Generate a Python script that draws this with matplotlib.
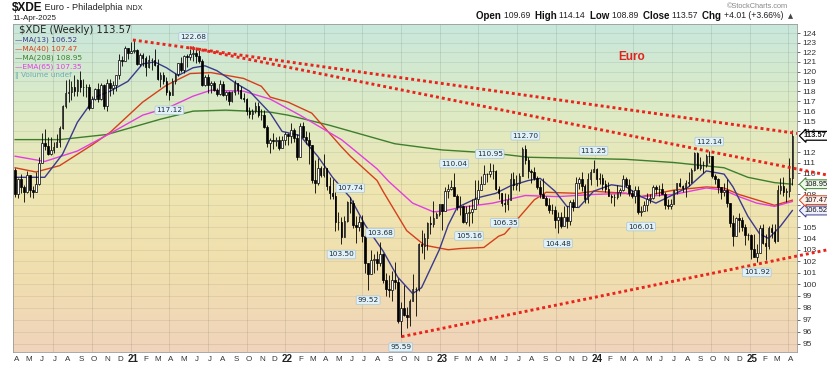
import numpy as np
import pandas as pd
import matplotlib
matplotlib.use("Agg")
import matplotlib.pyplot as plt
import matplotlib.dates as mdates
import matplotlib.transforms as mtransforms
from matplotlib.colors import LinearSegmentedColormap
from matplotlib.ticker import FixedLocator, FixedFormatter, NullLocator

# ---------------- data (weekly bars, Friday dates) ----------------
WEEKS = pd.date_range("2020-04-03", "2025-04-11", freq="W-FRI")
OPEN_FIRST = 110.3

CLOSE = [
    # 2020
    108.0, 109.4, 108.7, 108.2, 109.8, 108.4, 108.2, 109.0, 111.0, 112.9, 112.6, 111.8, 112.2,
    112.5, 113.0, 114.3, 116.5, 117.8, 117.9, 118.4, 118.0, 119.1, 118.4, 118.4, 118.4, 116.3,
    117.2, 118.2, 117.2, 118.6, 116.5, 118.8, 118.3, 118.6, 119.6, 121.2, 121.1, 122.5, 121.9,
    # 2021
    122.1, 122.2, 120.8, 121.7, 121.4, 120.5, 121.2, 121.2, 120.7, 119.2, 119.6, 119.0, 117.9,
    117.6, 119.0, 119.8, 120.9, 120.2, 121.6, 121.5, 121.8, 121.9, 121.6, 121.1, 118.6, 119.4,
    118.6, 118.8, 118.1, 117.7, 118.7, 117.6, 117.9, 117.0, 117.9, 118.8, 118.1, 117.3, 117.2,
    116.0, 115.7, 116.0, 116.5, 115.6, 115.6, 114.4, 112.9, 113.2, 113.1, 113.2, 112.4, 113.2, 113.7,
    # 2022
    113.6, 114.1, 113.4, 111.5, 114.5, 113.5, 113.2, 112.7, 109.3, 109.1, 110.5, 109.8, 110.5,
    108.8, 108.1, 107.9, 105.5, 105.5, 104.1, 105.6, 107.3, 107.2, 105.2, 105.0, 105.5, 104.2,
    101.8, 100.9, 102.1, 102.2, 101.8, 102.6, 100.4, 99.6, 99.5, 100.4, 100.2, 96.9, 98.0,
    97.4, 97.2, 98.6, 99.6, 99.6, 103.5, 103.3, 104.0, 105.4, 105.3, 105.8, 106.2, 107.1,
    # 2023
    106.5, 108.3, 108.5, 108.7, 107.9, 106.8, 106.9, 105.5, 106.3, 106.4, 106.7, 107.6, 108.4,
    109.0, 109.9, 109.9, 110.2, 110.2, 108.5, 108.1, 107.2, 107.1, 107.5, 109.4, 108.9, 109.1,
    109.7, 112.3, 111.2, 110.2, 110.1, 109.5, 108.7, 108.0, 107.7, 107.0, 106.6, 106.6, 105.7,
    105.9, 105.1, 105.9, 105.6, 107.3, 106.8, 109.1, 109.4, 108.8, 107.6, 109.4, 110.1, 110.4,
    # 2024
    109.4, 109.5, 109.0, 108.5, 107.9, 107.8, 107.8, 108.2, 108.4, 109.4, 108.9, 108.1, 107.9,
    108.4, 106.4, 106.5, 107.0, 107.6, 107.7, 108.7, 108.5, 108.5, 108.0, 107.0, 106.9, 107.1,
    108.4, 109.1, 108.8, 108.6, 109.1, 109.2, 110.3, 111.9, 110.5, 110.8, 110.8, 111.6, 111.6,
    109.7, 109.4, 108.7, 108.2, 108.4, 107.2, 105.4, 104.2, 105.8, 105.7, 105.0, 104.3, 104.3,
    # 2025
    103.1, 102.4, 102.7, 104.9, 103.6, 103.3, 104.9, 104.6, 103.8, 108.4, 108.8, 108.2, 108.3,
    109.56, 113.57,
]

HIGH = [
    # 2020
    110.5, 109.5, 109.9, 108.9, 110.2, 109.8, 108.8, 110.1, 111.5, 113.8, 114.2, 113.5, 113.5,
    113.0, 113.7, 114.5, 116.6, 119.1, 119.2, 119.0, 119.7, 119.2, 120.1, 119.2, 118.7, 118.7,
    117.5, 118.3, 118.8, 118.8, 118.7, 119.2, 119.2, 119.0, 119.7, 121.8, 121.6, 122.7, 122.5,
    # 2021
    123.1, 123.4, 122.4, 121.9, 121.9, 121.6, 121.7, 121.4, 122.4, 121.3, 120.0, 120.0, 119.4,
    118.1, 119.3, 119.9, 120.9, 121.5, 121.7, 121.8, 122.4, 122.68, 122.5, 122.2, 121.3, 119.7,
    119.8, 119.0, 119.0, 118.3, 119.1, 119.0, 118.0, 118.0, 118.0, 119.1, 118.8, 118.5, 117.8,
    117.3, 116.4, 116.2, 116.9, 116.9, 116.2, 116.1, 114.6, 113.4, 113.8, 113.5, 113.6, 113.6, 113.9,
    # 2022
    113.8, 114.8, 114.3, 113.7, 114.8, 114.9, 114.0, 113.9, 112.6, 111.2, 111.4, 110.7, 111.8,
    110.5, 109.6, 109.4, 108.2, 106.4, 105.9, 106.0, 107.4, 107.74, 107.5, 106.0, 106.0, 106.1,
    104.3, 101.8, 103.0, 102.6, 102.9, 103.68, 102.7, 101.0, 100.8, 101.1, 101.9, 100.5, 98.5,
    99.9, 98.1, 98.7, 100.9, 99.8, 103.6, 104.8, 104.5, 105.5, 106.0, 107.4, 106.4, 107.1,
    # 2023
    107.1, 108.7, 109.0, 109.3, 110.04, 108.0, 107.9, 107.0, 106.9, 107.0, 107.6, 109.3, 109.3,
    109.7, 110.8, 110.0, 110.95, 110.9, 110.3, 108.8, 108.1, 108.1, 108.0, 110.0, 110.1, 109.8,
    110.0, 112.5, 112.70, 111.5, 110.4, 110.6, 109.7, 109.3, 109.5, 107.9, 107.7, 107.1, 106.9,
    106.4, 106.4, 106.9, 106.9, 107.5, 107.6, 109.6, 109.6, 110.1, 109.0, 110.0, 110.4, 111.25,
    # 2024
    110.5, 110.0, 109.9, 109.3, 109.2, 108.0, 108.0, 108.9, 108.6, 109.8, 109.6, 109.4, 108.4,
    108.8, 108.8, 106.9, 107.4, 108.1, 108.0, 108.9, 108.9, 108.9, 109.1, 108.2, 107.6, 107.6,
    108.4, 109.1, 109.5, 108.9, 109.3, 110.1, 110.5, 112.0, 112.0, 111.5, 111.1, 111.8, 112.14,
    111.6, 109.9, 109.5, 108.7, 109.1, 109.4, 107.2, 106.1, 105.9, 106.3, 105.9, 105.3, 104.5,
    # 2025
    104.4, 104.4, 103.5, 105.2, 105.3, 104.4, 105.1, 105.3, 105.3, 108.9, 109.5, 109.6, 108.6,
    111.4, 114.14,
]

LOW = [
    # 2020
    107.8, 107.7, 108.1, 107.3, 108.1, 107.8, 107.7, 108.6, 108.9, 111.0, 112.2, 111.7, 111.7,
    111.9, 112.5, 112.5, 114.2, 116.3, 116.9, 117.1, 117.5, 117.5, 117.9, 117.5, 117.4, 116.1,
    116.7, 117.1, 116.9, 117.1, 116.2, 116.0, 117.5, 117.7, 118.0, 119.2, 120.6, 121.2, 121.3,
    # 2021
    121.9, 121.9, 120.7, 120.6, 120.6, 119.5, 120.4, 120.2, 120.6, 119.1, 118.4, 118.7, 117.6,
    117.12, 117.6, 118.7, 119.5, 120.0, 119.9, 120.5, 121.2, 121.1, 120.9, 120.9, 118.5, 118.5,
    117.8, 117.8, 118.0, 117.5, 117.6, 117.5, 117.1, 116.6, 116.9, 117.6, 117.7, 117.2, 116.9,
    115.6, 115.3, 115.2, 115.8, 115.4, 115.1, 114.3, 112.5, 111.9, 112.3, 112.6, 112.2, 112.4, 112.7,
    # 2022
    112.7, 112.9, 113.0, 111.2, 111.6, 113.4, 112.8, 110.9, 109.1, 108.1, 108.9, 109.6, 109.6,
    108.4, 107.6, 107.6, 104.7, 104.8, 103.50, 104.3, 105.5, 106.3, 104.9, 103.6, 104.7, 103.7,
    101.0, 99.52, 100.9, 101.0, 101.2, 101.6, 100.1, 99.0, 98.9, 98.6, 99.6, 96.7, 95.59,
    97.3, 96.3, 96.5, 98.6, 97.3, 99.4, 102.7, 102.2, 103.0, 104.4, 105.0, 105.8, 106.0,
    # 2023
    104.8, 106.7, 107.7, 108.4, 107.9, 106.6, 106.1, 105.4, 105.3, 105.16, 105.4, 107.1, 107.1,
    108.4, 109.1, 109.2, 109.6, 109.4, 108.4, 107.6, 106.9, 106.35, 106.6, 107.7, 108.4, 108.4,
    108.3, 109.7, 110.9, 109.5, 109.1, 109.3, 108.5, 107.7, 107.7, 106.9, 106.3, 106.2, 104.9,
    104.48, 104.9, 105.2, 104.9, 105.2, 106.5, 106.9, 108.5, 108.3, 107.2, 107.2, 108.9, 110.1,
    # 2024
    108.8, 109.0, 108.4, 108.2, 107.9, 107.2, 106.9, 107.6, 107.9, 108.3, 108.7, 107.9, 107.7,
    107.2, 106.2, 106.01, 106.5, 106.5, 107.2, 107.6, 108.0, 107.9, 108.0, 106.7, 106.7, 106.7,
    107.1, 108.0, 108.7, 108.2, 107.8, 108.8, 109.1, 110.2, 110.4, 110.3, 110.0, 110.6, 111.0,
    109.5, 109.0, 108.1, 107.6, 107.9, 106.8, 105.0, 103.3, 104.2, 104.6, 104.7, 103.4, 103.9,
    # 2025
    102.2, 102.4, 101.92, 102.8, 103.5, 102.1, 103.1, 104.0, 103.6, 103.9, 108.0, 107.9, 107.3,
    107.8, 108.89,
]

MA13_DATES = ["2020-04-03", "2020-06-12", "2020-07-24", "2020-08-28", "2020-10-09", "2020-11-13",
              "2020-12-25", "2021-01-29", "2021-02-26", "2021-03-26", "2021-04-23", "2021-05-28",
              "2021-06-25", "2021-07-23", "2021-09-10", "2021-10-08", "2021-11-26", "2021-12-24",
              "2022-02-04", "2022-03-18", "2022-04-22", "2022-06-03", "2022-07-08", "2022-08-19",
              "2022-09-23", "2022-10-28", "2022-11-18", "2022-12-30", "2023-01-20", "2023-02-10",
              "2023-03-31", "2023-05-12", "2023-06-16", "2023-07-28", "2023-08-25", "2023-09-29",
              "2023-10-27", "2023-11-24", "2023-12-29", "2024-02-09", "2024-03-15", "2024-04-19",
              "2024-05-24", "2024-07-05", "2024-08-09", "2024-09-20", "2024-11-01", "2024-11-22",
              "2024-12-27", "2025-01-24", "2025-02-14", "2025-03-14", "2025-04-11"]
MA13_VALS = [109.6, 109.6, 111.8, 114.9, 117.4, 118.0, 119.0, 120.8, 121.0, 120.4, 119.6, 120.4,
             120.6, 120.1, 118.7, 118.0, 115.8, 114.0, 113.6, 111.6, 109.6, 107.7, 105.2, 102.9,
             100.6, 99.2, 99.7, 103.0, 105.2, 106.8, 107.7, 108.1, 108.8, 109.3, 109.5, 108.3,
             106.9, 106.8, 108.3, 108.9, 108.7, 107.8, 107.2, 108.0, 108.7, 110.2, 109.9, 108.7,
             106.0, 104.4, 104.0, 105.1, 106.52]

MA40_DATES = ["2020-04-03", "2020-05-22", "2020-07-17", "2020-10-02", "2020-11-13", "2021-01-29",
              "2021-03-26", "2021-05-21", "2021-07-09", "2021-09-24", "2021-11-05", "2021-11-26",
              "2022-01-07", "2022-03-04", "2022-05-13", "2022-06-03", "2022-08-05", "2022-08-19",
              "2022-10-14", "2022-11-25", "2023-01-20", "2023-02-17", "2023-04-14", "2023-05-19",
              "2023-06-02", "2023-08-11", "2023-09-08", "2023-11-24", "2023-12-29", "2024-03-15",
              "2024-04-19", "2024-07-05", "2024-09-20", "2024-11-01", "2024-12-06", "2025-01-17",
              "2025-02-28", "2025-04-11"]
MA40_VALS = [110.5, 110.1, 110.7, 112.7, 113.9, 116.9, 118.6, 119.8, 119.9, 119.3, 118.5, 117.4,
             116.9, 115.8, 112.5, 111.6, 109.3, 108.3, 104.7, 103.4, 103.0, 103.1, 103.2, 104.2,
             104.4, 107.5, 108.2, 108.1, 108.3, 108.1, 107.8, 108.4, 108.7, 108.6, 108.0, 107.5,
             107.0, 107.47]

MA208_DATES = ["2020-04-03", "2020-07-17", "2020-11-06", "2021-03-12", "2021-05-28", "2021-08-13",
               "2021-11-26", "2022-01-07", "2022-04-15", "2022-09-16", "2023-01-06", "2023-05-05",
               "2023-07-28", "2024-03-15", "2024-07-05", "2024-11-01", "2024-12-27", "2025-02-28",
               "2025-04-11"]
MA208_VALS = [113.2, 113.2, 113.7, 115.2, 116.0, 116.1, 115.9, 115.6, 114.6, 112.8, 112.2, 111.9,
              111.5, 111.3, 111.0, 110.5, 109.6, 109.1, 108.95]

EMA65_DATES = ["2020-04-03", "2020-06-12", "2020-08-28", "2020-11-13", "2021-01-29", "2021-04-02",
               "2021-05-28", "2021-07-09", "2021-09-24", "2021-11-26", "2022-02-04", "2022-05-13",
               "2022-06-03", "2022-08-05", "2022-09-02", "2022-10-28", "2022-12-16", "2023-01-13",
               "2023-02-17", "2023-05-05", "2023-07-21", "2023-10-06", "2023-12-29", "2024-03-15",
               "2024-04-19", "2024-07-05", "2024-09-20", "2024-11-01", "2024-12-06", "2025-01-17",
               "2025-02-28", "2025-04-11"]
EMA65_VALS = [111.6, 111.1, 112.1, 113.8, 115.6, 116.4, 117.5, 118.1, 118.0, 117.2, 115.6, 113.2,
              112.5, 110.4, 109.2, 107.2, 106.4, 106.5, 106.8, 107.2, 107.9, 107.8, 108.0, 108.1,
              107.8, 108.0, 108.6, 108.4, 107.8, 107.2, 106.9, 107.35]

# labelled highs / lows
EXT_DATES = ["2021-05-28", "2021-04-02", "2022-05-13", "2022-06-03", "2022-07-15", "2022-08-12",
             "2022-09-30", "2023-02-03", "2023-03-10", "2023-04-28", "2023-06-02", "2023-07-21",
             "2023-10-06", "2023-12-29", "2024-04-19", "2024-09-27", "2025-01-17"]
EXT_VALS = [122.68, 117.12, 103.50, 107.74, 99.52, 103.68, 95.59, 110.04, 105.16, 110.95, 106.35,
            112.70, 104.48, 111.25, 106.01, 112.14, 101.92]
EXT_KIND = ["hi", "lo", "lo", "hi", "lo", "hi", "lo", "hi", "lo", "hi", "lo", "hi", "lo", "hi",
            "lo", "hi", "lo"]

# dotted trend lines (two anchor points each)
TRENDS = [
    (["2021-01-06", "2025-04-22"], [123.3, 113.8]),
    (["2021-05-20", "2025-07-04"], [122.5, 109.8]),
    (["2022-10-02", "2025-07-04"], [95.6, 103.0]),
]

# y tick labels hidden behind the value tags in the reference
HIDDEN_TICKS = [113, 109, 107, 106]

C_MA13 = "#3a3a8c"
C_MA40 = "#d4401c"
C_MA208 = "#3d7f2c"
C_EMA65 = "#e23ee0"
C_TREND = "#e8251c"
LS = "Liberation Sans"

# ---------------- figure ----------------
W, H = 828, 367
fig = plt.figure(figsize=(W / 100, H / 100), dpi=100)
fig.patch.set_facecolor("white")
ax_rect = [13 / W, 1 - 352 / H, 784 / W, 328 / H]

bg = fig.add_axes(ax_rect, zorder=0)
grad = LinearSegmentedColormap.from_list(
    "bg", ["#c8e7dc", "#dcebc6", "#eee6b2", "#f1dfae", "#f0d4bc"])
bg.imshow(np.linspace(0, 1, 256).reshape(-1, 1), cmap=grad, aspect="auto",
          extent=(0, 1, 0, 1), origin="upper")
bg.axis("off")

ax = fig.add_axes(ax_rect, zorder=1)
ax.set_facecolor("none")
ax.set_yscale("log")
ax.set_ylim(94.35, 125.0)
ax.set_xlim(mdates.date2num(pd.Timestamp("2020-03-29")), mdates.date2num(pd.Timestamp("2025-04-22")))

ticks = list(range(95, 125))
ax.yaxis.set_major_locator(FixedLocator(ticks))
ax.yaxis.set_major_formatter(FixedFormatter(["" if t in HIDDEN_TICKS else str(t) for t in ticks]))
ax.yaxis.set_minor_locator(NullLocator())
ax.yaxis.tick_right()
ax.tick_params(axis="y", which="major", length=2.5, width=0.5, pad=1.5, labelsize=6,
               colors="#333333", labelfontfamily=LS)
ax.xaxis.set_major_locator(NullLocator())
ax.xaxis.set_minor_locator(NullLocator())
ax.grid(axis="y", color="black", alpha=0.08, lw=0.6)
for q in pd.date_range("2020-07-01", "2025-04-01", freq="QS-JAN"):
    ax.axvline(mdates.date2num(q), color="black", alpha=0.10, lw=0.6, zorder=1)
for s in ax.spines.values():
    s.set_color("#9a9a9a")
    s.set_linewidth(0.6)

# month labels
trans_x = mtransforms.blended_transform_factory(ax.transData, ax.transAxes)
for m in pd.date_range("2020-04-01", "2025-04-01", freq="MS"):
    xm = mdates.date2num(m + pd.Timedelta(days=5))
    if m.month == 1:
        ax.text(xm, -0.022, f"{m.year % 100:02d}", transform=trans_x, ha="center", va="center",
                fontsize=7, fontweight="bold", family=LS, color="#222222")
    else:
        ax.text(xm, -0.022, "JFMAMJJASOND"[m.month - 1], transform=trans_x, ha="center",
                va="center", fontsize=5.8, family=LS, color="#333333")

# moving averages
for dts, vals, col in [(MA208_DATES, MA208_VALS, C_MA208), (MA40_DATES, MA40_VALS, C_MA40),
                       (EMA65_DATES, EMA65_VALS, C_EMA65), (MA13_DATES, MA13_VALS, C_MA13)]:
    ax.plot(pd.to_datetime(dts), vals, color=col, lw=1.0, zorder=3, solid_joinstyle="round")

# candlesticks
x = mdates.date2num(WEEKS)
c = np.array(CLOSE)
o = np.array([OPEN_FIRST] + CLOSE[:-1])
h = np.maximum.reduce([np.array(HIGH), o, c])
l = np.minimum.reduce([np.array(LOW), o, c])
up = c >= o
ax.vlines(x, l, h, color="black", lw=0.6, zorder=5)
ax.bar(x[up], (c - o)[up], bottom=o[up], width=3.8, facecolor="white", edgecolor="black",
       lw=0.5, zorder=6)
ax.bar(x[~up], (o - c)[~up], bottom=c[~up], width=3.8, facecolor="black", edgecolor="black",
       lw=0.5, zorder=6)

# trend lines
for dts, vals in TRENDS:
    ax.plot(pd.to_datetime(dts), vals, color=C_TREND, lw=2.1, ls=(0, (1, 1.05)),
            zorder=7, clip_on=False)

# labelled extremes
for d, v, k in zip(EXT_DATES, EXT_VALS, EXT_KIND):
    ax.annotate(f"{v:.2f}", xy=(pd.Timestamp(d), v), xytext=(0, 6.5 if k == "hi" else -7.5),
                textcoords="offset points", ha="center", va="center", fontsize=5.3,
                color="#1d2f3a", zorder=9,
                bbox=dict(boxstyle="round,pad=0.18", fc="#e2f1f7", ec="#a6c6d6", lw=0.5))

# value tags on right axis
trans_y = mtransforms.blended_transform_factory(ax.transAxes, ax.transData)
for v, ec, fc, wt in [(106.52, C_MA13, "#eef0ff", "normal"), (107.47, C_MA40, "#fff0ea", "normal"),
                      (108.95, C_MA208, "#eef8ea", "normal"),
                      (CLOSE[-1], "#000000", "#ffffff", "bold")]:
    ax.text(1.0 + 7 / 784, v, f"{v:.2f}", transform=trans_y, ha="left", va="center",
            fontsize=5.4, fontweight=wt, family=LS, color="#111111", zorder=10, clip_on=False,
            bbox=dict(boxstyle="larrow,pad=0.12", fc=fc, ec=ec, lw=0.9 if wt == "bold" else 0.7))

# ---------------- header texts ----------------
renderer = fig.canvas.get_renderer()


def text_run(x_px, y_px, pieces):
    # place text pieces one after another on one line
    xx = x_px
    for s, kw in pieces:
        t = fig.text(xx / W, 1 - y_px / H, s, ha="left", va="center", **kw)
        xx += t.get_window_extent(renderer=renderer).width
    return xx


text_run(12, 8, [("$XDE", dict(fontsize=8.5, fontweight="bold", family=LS, color="#111111")),
                 (" Euro - Philadelphia ", dict(fontsize=6.6, family=LS, color="#222222")),
                 ("INDX", dict(fontsize=5.2, family=LS, color="#222222"))])
fig.text(12 / W, 1 - 18 / H, "11-Apr-2025", ha="left", va="center", fontsize=5.8, family=LS,
         color="#222222")
fig.text(788 / W, 1 - 7 / H, "\u00a9StockCharts.com", ha="right", va="center", fontsize=5.3,
         family=LS, color="#888888")

hdr = []
for lab, val in [("Open", "109.69"), ("High", "114.14"), ("Low", "108.89"), ("Close", "113.57"),
                 ("Chg", "+4.01 (+3.66%)")]:
    hdr.append((lab + " ", dict(fontsize=7.0, fontweight="bold", family=LS, color="#111111")))
    hdr.append((val + "  ", dict(fontsize=6.2, family=LS, color="#222222")))
hdr.append(("\u25b2", dict(fontsize=4.8, family="DejaVu Sans", color="#444444")))
text_run(476, 16, hdr)

# legend block
fig.text(19 / W, 1 - 30 / H, "$XDE (Weekly) 113.57", ha="left", va="center", fontsize=7.2,
         family="DejaVu Sans", color="#222222", zorder=12)
for i, (s, col) in enumerate([("\u2014MA(13) 106.52", C_MA13), ("\u2014MA(40) 107.47", C_MA40),
                              ("\u2014MA(208) 108.95", C_MA208), ("\u2014EMA(65) 107.35", C_EMA65),
                              ("\u2016 Volume undef", "#6aaeb4")]):
    fig.text(15 / W, 1 - (39.5 + 9 * i) / H, s, ha="left", va="center", fontsize=5.3,
             family="DejaVu Sans", color=col, zorder=12)

fig.text(632 / W, 1 - 57 / H, "Euro", ha="center", va="center", fontsize=8.5, fontweight="bold",
         family=LS, color="#e0231c")

fig.savefig("out.png", dpi=100)
